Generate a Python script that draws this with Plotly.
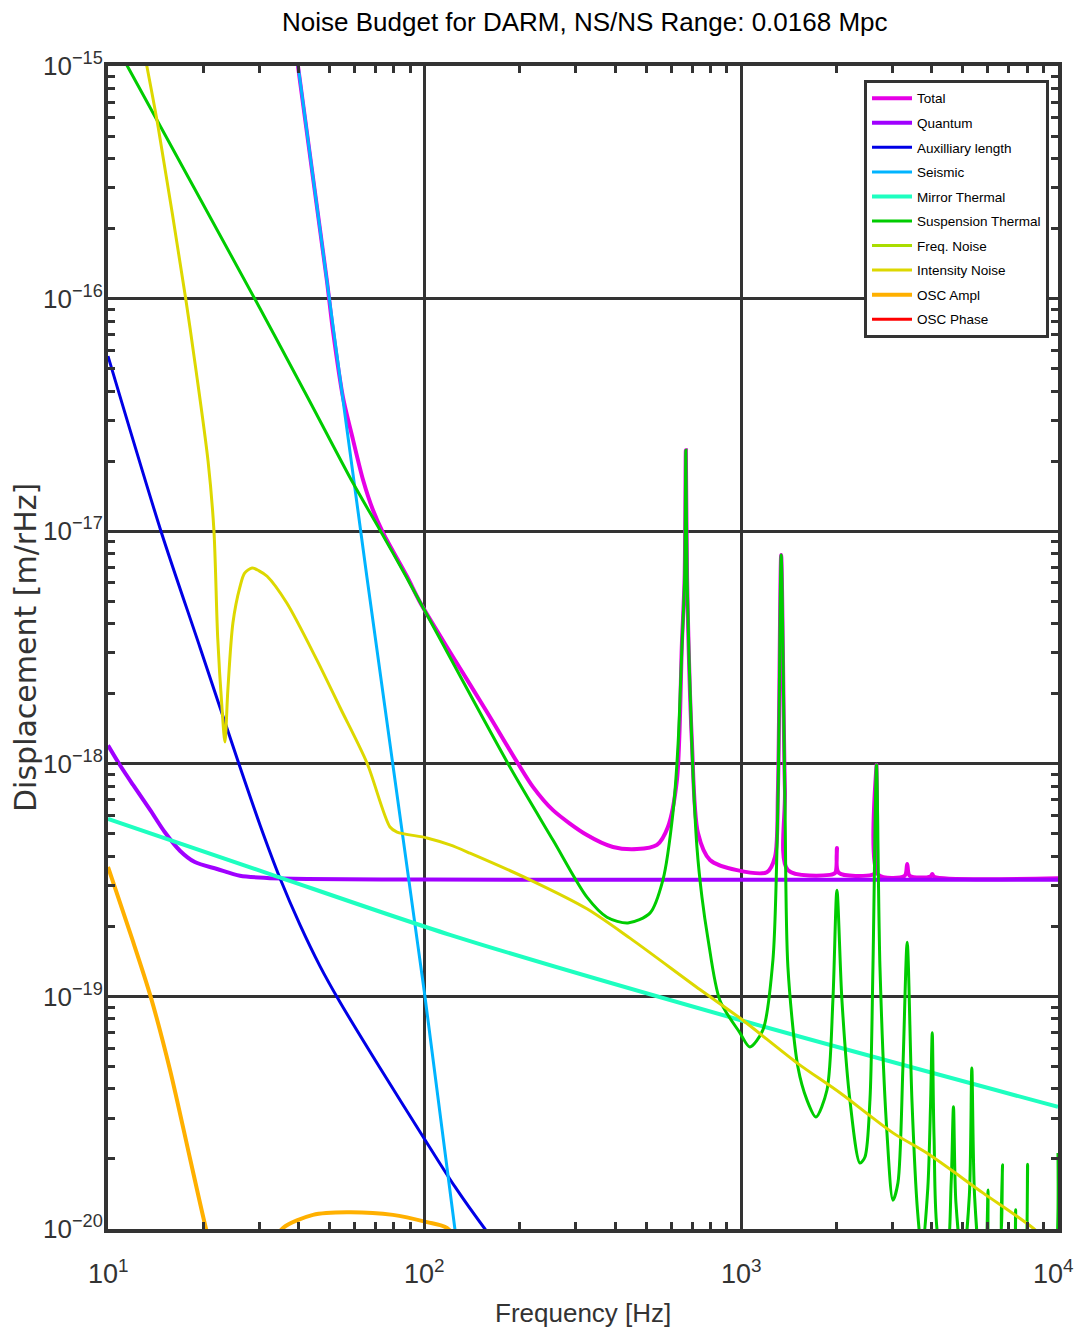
import math
import plotly.graph_objects as go

# ---------------- data ----------------
total_f = [36, 39.8, 49.1, 51.3, 55.2, 59.4, 63.9, 68.7, 73.9, 87.9,
           96.7, 122.9, 157.3, 195.6, 220, 254.2, 325.4, 393.1, 468.1, 541.4,
           586.4, 626, 649.2, 662, 668, 674, 698, 729.5, 796, 968.7,
           1204, 1277, 1305, 1336, 1373, 1403, 1904, 1980, 2004, 2030,
           2585, 2645, 2672, 2700, 3280, 3340, 3400, 3960, 4008, 4060, 10000]
total_v = [3e-15, 1.0e-15, 1.2e-16, 7.33e-17, 3.77e-17, 2.47e-17, 1.66e-17, 1.23e-17, 9.83e-18, 6.4e-18,
           4.95e-18, 2.88e-18, 1.67e-18, 1.02e-18, 7.94e-19, 6.32e-19, 4.94e-19, 4.39e-19, 4.30e-19, 4.48e-19,
           5.35e-19, 8.51e-19, 3.3e-18, 6.3e-18, 2.23e-17, 6.3e-18, 1.25e-18, 5.04e-19, 3.86e-19, 3.49e-19,
           3.42e-19, 3.97e-19, 7.7e-19, 7.9e-18, 7.7e-19, 3.49e-19, 3.33e-19, 3.4e-19, 4.35e-19, 3.4e-19,
           3.33e-19, 3.4e-19, 9.9e-19, 3.35e-19, 3.3e-19, 3.71e-19, 3.3e-19, 3.28e-19, 3.36e-19, 3.27e-19, 3.22e-19]

quant_f = [10, 10.9, 12.0, 13.6, 15.1, 16.9, 18.8, 22.1, 26.1, 31.8, 42.5, 100, 1000, 10000]
quant_v = [1.2e-18, 9.88e-19, 8.11e-19, 6.32e-19, 5.09e-19, 4.22e-19, 3.78e-19, 3.53e-19, 3.30e-19, 3.23e-19,
           3.2e-19, 3.18e-19, 3.17e-19, 3.17e-19]

aux_f = [10, 14.7, 19.5, 25.9, 30.2, 34.9, 40.4, 46.7, 54.0, 72.3, 100.2, 124.6, 155, 170]
aux_v = [5.66e-17, 1.0e-17, 3.18e-18, 1.0e-18, 5.46e-19, 3.23e-19, 2.03e-19, 1.35e-19, 9.46e-20, 4.92e-20,
         2.42e-20, 1.52e-20, 1.0e-20, 8.5e-21]

seis_f = [36, 39.8, 49.1, 65.7, 100.2, 124.6, 130]
seis_v = [2.8e-15, 1e-15, 1.2e-16, 6.35e-18, 1.0e-19, 1.0e-20, 6.5e-21]

mirror_f = [10, 31.8, 120.2, 990, 10000]
mirror_v = [5.8e-19, 3.39e-19, 1.84e-19, 7.92e-20, 3.35e-20]

susp_f = [10, 11.6, 29.1, 42.8, 59.4, 72.3, 87.9, 96.7, 185.9, 254.2,
          325.4, 376.4, 438.5, 514.5, 565.5, 608.1, 630.6, 649.2, 662, 668,
          674, 698, 724, 751, 784, 856, 990, 1064, 1170, 1258,
          1305, 1336, 1373, 1403, 1509, 1611, 1720, 1864, 1946, 2004,
          2078, 2202, 2369, 2457, 2548, 2604, 2672, 2740, 2883, 3011,
          3123, 3238, 3340, 3457, 3600, 3720, 3880, 3960, 4008, 4060,
          4200, 4450, 4600, 4676, 4760, 5000, 5250, 5344, 5450, 5750,
          5950, 6012, 6100, 6450, 6620, 6680, 6760, 7150, 7300, 7348,
          7420, 7800, 7960, 8016, 8100, 8684, 9352, 9800, 10000]
susp_v = [1.42e-15, 9.8e-16, 9.96e-17, 3.74e-17, 1.61e-17, 1.01e-17, 6.29e-18, 4.96e-18, 9.68e-19, 4.70e-19,
          2.67e-19, 2.19e-19, 2.07e-19, 2.28e-19, 3.17e-19, 6.14e-19, 1.18e-18, 3.18e-18, 6.2e-18, 2.23e-17,
          6.2e-18, 1.2e-18, 4.39e-19, 2.67e-19, 1.78e-19, 9.6e-20, 6.97e-20, 6.06e-20, 7.18e-20, 1.43e-19,
          6.98e-19, 7.9e-18, 6.98e-19, 1.34e-19, 4.97e-20, 3.59e-20, 3.03e-20, 3.96e-20, 9.64e-20, 2.86e-19,
          9.64e-20, 3.59e-20, 1.92e-20, 2.04e-20, 3.59e-20, 1.34e-19, 9.9e-19, 1.34e-19, 2.59e-20, 1.33e-20,
          1.58e-20, 4.97e-20, 1.71e-19, 3.59e-20, 1.2e-20, 8e-21, 1.5e-20, 3.5e-20, 6.97e-20, 2.5e-20,
          9e-21, 8e-21, 1.6e-20, 3.35e-20, 1.3e-20, 7e-21, 1.4e-20, 4.92e-20, 1.4e-20, 6e-21,
          9e-21, 1.47e-20, 7e-21, 8e-21, 1.0e-20, 1.89e-20, 7e-21, 7e-21, 8e-21, 1.21e-20,
          6e-21, 7e-21, 9e-21, 1.9e-20, 6e-21, 8e-21, 9e-21, 8e-21, 2.12e-20]

freq_f = [10, 10000]
freq_v = [1e-22, 1e-22]

int_f = [13.0, 13.3, 14.4, 17.6, 19.0, 20.7, 21.6, 22.2, 22.9, 23.4,
         23.9, 24.8, 26.1, 27.0, 28.5, 30.0, 31.8, 36.7, 45.7, 54.0,
         65.7, 77.7, 81.8, 101.7, 120.2, 139.0, 215.0, 325.4, 444.9, 740,
         990, 1498, 2048, 3011, 3855, 5793, 8331, 9500]
int_v = [1.15e-15, 9.8e-16, 5.47e-16, 9.96e-17, 4.83e-17, 2.0e-17, 1.01e-17, 3.5e-18, 1.75e-18, 1.24e-18,
         2.07e-18, 4.03e-18, 5.76e-18, 6.6e-18, 6.95e-18, 6.75e-18, 6.4e-18, 4.91e-18, 2.79e-18, 1.75e-18,
         1.01e-18, 5.35e-19, 5.09e-19, 4.80e-19, 4.48e-19, 4.13e-19, 3.17e-19, 2.38e-19, 1.78e-19, 1.07e-19,
         8.07e-20, 5.18e-20, 3.85e-20, 2.59e-20, 2.12e-20, 1.43e-20, 1.01e-20, 8.5e-21]

osca_f = [10, 11.9, 13.6, 15.7, 18.2, 20.4, 22.5, 28, 33, 35.7,
          44.4, 56.8, 79.4, 101.7, 117.6, 135]
osca_v = [3.6e-19, 1.78e-19, 1.01e-19, 4.83e-20, 1.98e-20, 1.0e-20, 6e-21, 2e-21, 8.5e-21, 1.01e-20,
          1.15e-20, 1.18e-20, 1.15e-20, 1.07e-20, 1.01e-20, 8e-21]

oscp_f = [10, 10000]
oscp_v = [1e-22, 1e-22]

x_ticks = [10, 100, 1000, 10000]
x_ticktext = ["10<sup>1</sup>", "10<sup>2</sup>", "10<sup>3</sup>", "10<sup>4</sup>"]
y_ticks = [1e-20, 1e-19, 1e-18, 1e-17, 1e-16, 1e-15]
y_ticktext = ["10<sup>\u221220</sup>", "10<sup>\u221219</sup>", "10<sup>\u221218</sup>",
              "10<sup>\u221217</sup>", "10<sup>\u221216</sup>", "10<sup>\u221215</sup>"]

series = [
    ("Total", total_f, total_v, "#E600E6", 4, "spline"),
    ("Quantum", quant_f, quant_v, "#A000FF", 4, "spline"),
    ("Auxilliary length", aux_f, aux_v, "#0000E6", 3, "spline"),
    ("Seismic", seis_f, seis_v, "#00B4FF", 3, "linear"),
    ("Mirror Thermal", mirror_f, mirror_v, "#1EFFC0", 4, "spline"),
    ("Suspension Thermal", susp_f, susp_v, "#00CC00", 3, "spline"),
    ("Freq. Noise", freq_f, freq_v, "#AADD00", 3, "linear"),
    ("Intensity Noise", int_f, int_v, "#DDD800", 3, "spline"),
    ("OSC Ampl", osca_f, osca_v, "#FFB000", 4, "spline"),
    ("OSC Phase", oscp_f, oscp_v, "#FF0000", 3, "linear"),
]

FONT = "Liberation Sans, Arial, sans-serif"
INK = "#333333"

fig = go.Figure()
for name, fx, fy, col, w, shape in series:
    fig.add_trace(go.Scatter(x=fx, y=fy, mode="lines", name=name, legendgroup=name,
                             line=dict(color=col, width=w, shape=shape, smoothing=0.8)))

minor_x = [k * 10 ** n for n in range(1, 4) for k in range(2, 10)]
minor_y = [k * 10.0 ** n for n in range(-20, -15) for k in range(2, 10)]

axis_common = dict(
    type="log", showline=True, linewidth=4, linecolor=INK, mirror="allticks",
    ticks="inside", ticklen=10, tickwidth=2.5, tickcolor=INK,
    showgrid=True, gridcolor=INK, gridwidth=2.5, zeroline=False,
)

fig.update_xaxes(**axis_common, range=[1, 4], tickmode="array",
                 tickvals=x_ticks, showticklabels=False,
                 minor=dict(tickmode="array", tickvals=minor_x, ticks="inside",
                            ticklen=7, tickwidth=2.5, tickcolor=INK, showgrid=False))
fig.update_yaxes(**axis_common, range=[-20, -15], tickmode="array",
                 tickvals=y_ticks, ticktext=y_ticktext, ticklabelstandoff=-4,
                 tickfont=dict(family=FONT, size=26, color=INK),
                 minor=dict(tickmode="array", tickvals=minor_y, ticks="inside",
                            ticklen=7, tickwidth=2.5, tickcolor=INK, showgrid=False))

annotations = [
    dict(text="Noise Budget for DARM, NS/NS Range: 0.0168 Mpc", xref="paper", yref="paper",
         x=0.502, y=1.0378, xanchor="center", yanchor="middle", showarrow=False,
         font=dict(family=FONT, size=26, color="black")),
    dict(text="Frequency [Hz]", xref="paper", yref="paper",
         x=0.5, y=-0.0722, xanchor="center", yanchor="middle", showarrow=False,
         font=dict(family=FONT, size=26, color=INK)),
    dict(text="Displacement [m/rHz]", xref="paper", yref="paper",
         x=-0.0863, y=0.4996, xanchor="center", yanchor="middle", showarrow=False,
         textangle=-90, font=dict(family="DejaVu Sans, sans-serif", size=30, color=INK)),
]
# x tick labels (as annotations so the last one stays inside the page)
for i, (tv, tt) in enumerate(zip(x_ticks, x_ticktext)):
    annotations.append(dict(text=tt, xref="x", yref="paper", x=math.log10(tv), y=-0.037,
                            xanchor="center", yanchor="middle", showarrow=False,
                            xshift=(-5 if i == len(x_ticks) - 1 else 0),
                            font=dict(family=FONT, size=27, color=INK)))

fig.update_layout(
    width=1075, height=1324,
    margin=dict(l=100, r=25, t=58, b=103, autoexpand=False),
    paper_bgcolor="white", plot_bgcolor="white",
    showlegend=True,
    legend=dict(x=0.7958, y=0.988, xanchor="left", yanchor="top",
                bgcolor="white", bordercolor=INK, borderwidth=3,
                font=dict(family=FONT, size=13.5, color="black"),
                itemwidth=40, tracegroupgap=4),
    annotations=annotations,
)

fig.write_html("out.html")
